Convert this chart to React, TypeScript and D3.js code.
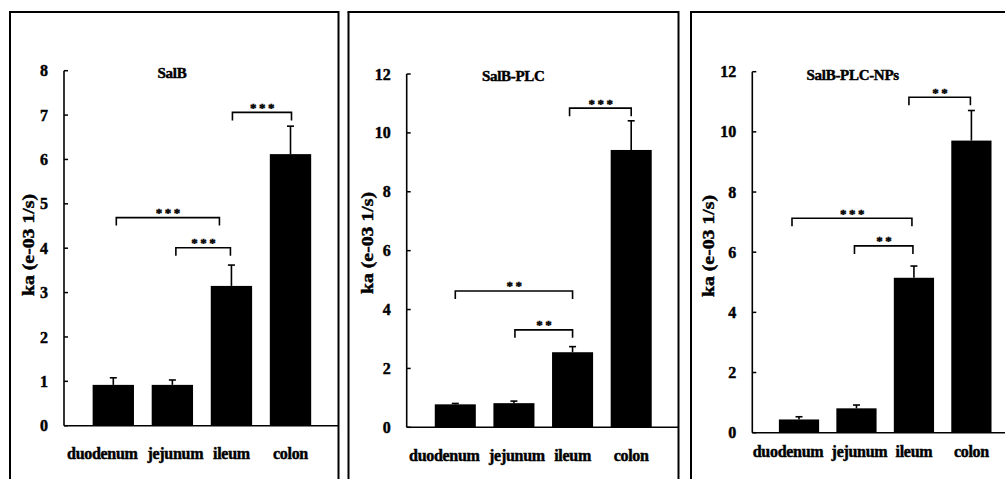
import React from "react";
import * as d3 from "d3";

const categories = ["duodenum", "jejunum", "ileum", "colon"];
const labelShift = [-11, 3, 0, 0];

const salbValues = [0.92, 0.92, 3.15, 6.12];
const salbErrors = [0.16, 0.11, 0.47, 0.63];
const plcValues = [0.78, 0.82, 2.55, 9.42];
const plcErrors = [0.03, 0.07, 0.19, 0.99];
const npsValues = [0.44, 0.81, 5.15, 9.71];
const npsErrors = [0.09, 0.11, 0.39, 1.0];

const salbTicks = [0, 1, 2, 3, 4, 5, 6, 7, 8];
const plcTicks = [0, 2, 4, 6, 8, 10, 12];
const npsTicks = [0, 2, 4, 6, 8, 10, 12];

const salbBrackets = [
  { from: 0, to: 2, level: 4.69, label: "***", dxFrom: 3, dxTo: -12 },
  { from: 1, to: 2, level: 4.01, label: "***", dxFrom: 3.5, dxTo: -1 },
  { from: 2, to: 3, level: 7.06, label: "***", dxFrom: 1, dxTo: 1 },
];
const plcBrackets = [
  { from: 0, to: 2, level: 4.63, label: "**", dxFrom: 0, dxTo: 0 },
  { from: 1, to: 2, level: 3.31, label: "**", dxFrom: 1, dxTo: 0 },
  { from: 2, to: 3, level: 10.84, label: "***", dxFrom: -3, dxTo: 0 },
];
const npsBrackets = [
  { from: 0, to: 2, level: 7.13, label: "***", dxFrom: -7, dxTo: -2 },
  { from: 1, to: 2, level: 6.21, label: "**", dxFrom: -2, dxTo: -1 },
  { from: 2, to: 3, level: 11.15, label: "**", dxFrom: -5, dxTo: -1 },
];

const titles = ["SalB", "SalB-PLC", "SalB-PLC-NPs"];
const yLabel = "ka (e-03 1/s)";

const FONT = "Liberation Serif";

type Bracket = { from: number; to: number; level: number; label: string; dxFrom: number; dxTo: number };

type PanelProps = {
  title: string;
  values: number[];
  errors: number[];
  ticks: number[];
  brackets: Bracket[];
  frameLeft: number;
  frameRight: number | null;
  axisX: number;
  zeroY: number;
  topY: number;
  firstC: number;
  lastC: number;
  axisEnd: number;
  titleDx: number;
  titleY: number;
  yLabelDx: number;
  yLabelY: number;
  catY: number;
};

function Panel(p: PanelProps) {
  const maxT = p.ticks[p.ticks.length - 1];
  const y = d3.scaleLinear().domain([0, maxT]).range([p.zeroY, p.topY]);
  const x = d3.scalePoint<string>().domain(categories).range([p.firstC, p.lastC]);
  const step = x.step();
  const bw = step * 0.7;
  const capW = 7;
  const txt = { fontFamily: FONT, fontWeight: 700 as const, stroke: "#000", strokeWidth: 0.45 };
  return (
    <g>
      <line x1={p.frameLeft} x2={p.frameLeft} y1={12} y2={490} stroke="#000" strokeWidth={2} />
      <line x1={p.frameLeft - 1} x2={p.frameRight ?? 1010} y1={12} y2={12} stroke="#000" strokeWidth={2} />
      {p.frameRight !== null && (
        <line x1={p.frameRight} x2={p.frameRight} y1={11} y2={490} stroke="#000" strokeWidth={2} />
      )}
      {categories.map((c, i) => (
        <rect
          key={c}
          x={(x(c) as number) - bw / 2}
          y={y(p.values[i])}
          width={bw}
          height={p.zeroY - y(p.values[i])}
          fill="#000"
        />
      ))}
      {categories.map((c, i) => {
        const cx = x(c) as number;
        const yt = y(p.values[i] + p.errors[i]);
        return (
          <g key={"e" + c} stroke="#000" strokeWidth={1.6}>
            <line x1={cx} x2={cx} y1={y(p.values[i])} y2={yt} />
            <line x1={cx - capW / 2} x2={cx + capW / 2} y1={yt} y2={yt} />
          </g>
        );
      })}
      <line x1={p.axisX} x2={p.axisX} y1={p.topY} y2={p.zeroY} stroke="#000" strokeWidth={1.6} />
      <line x1={p.axisX} x2={p.axisEnd} y1={p.zeroY} y2={p.zeroY} stroke="#000" strokeWidth={1.6} />
      {p.ticks.map((t) => (
        <g key={"t" + t}>
          <line x1={p.axisX} x2={p.axisX + 4} y1={y(t)} y2={y(t)} stroke="#000" strokeWidth={1.5} />
          <text x={p.axisX - 16} y={y(t)} dy="0.35em" textAnchor="end" style={{ ...txt, fontSize: 16 }}>
            {t}
          </text>
        </g>
      ))}
      {categories.map((c, i) => (
        <text
          key={"l" + c}
          x={(x(c) as number) + labelShift[i]}
          y={p.catY}
          dy="0.35em"
          textAnchor="middle"
          style={{ ...txt, fontSize: 16, letterSpacing: -0.3 }}
        >
          {c}
        </text>
      ))}
      {p.brackets.map((b, i) => {
        const x1 = (x(categories[b.from]) as number) + b.dxFrom;
        const x2 = (x(categories[b.to]) as number) + b.dxTo;
        const yy = y(b.level);
        return (
          <g key={"b" + i}>
            <path
              d={`M${x1},${yy + 8}V${yy}H${x2}V${yy + 8}`}
              fill="none"
              stroke="#000"
              strokeWidth={1.6}
            />
            <text
              x={(x1 + x2) / 2 + 1.5}
              y={yy - 0.5}
              textAnchor="middle"
              style={{ ...txt, fontSize: 13, letterSpacing: 2.5 }}
            >
              {b.label}
            </text>
          </g>
        );
      })}
      <text
        x={p.axisX + p.titleDx}
        y={p.titleY}
        dy="0.35em"
        textAnchor="middle"
        style={{ ...txt, fontSize: 15, letterSpacing: -0.3 }}
      >
        {p.title}
      </text>
      <text
        transform={`translate(${p.axisX + p.yLabelDx},${p.yLabelY}) rotate(-90)`}
        dy="0.35em"
        textAnchor="middle"
        textLength={102}
        lengthAdjust="spacingAndGlyphs"
        style={{ ...txt, fontSize: 17 }}
      >
        {yLabel}
      </text>
    </g>
  );
}

export default function App() {
  return (
    <svg
      width={1005}
      height={479}
      style={{ position: "absolute", left: 0, top: 0, background: "#fff" }}
    >
      <rect x={0} y={0} width={1005} height={479} fill="#fff" />
      <Panel
        title={titles[0]}
        values={salbValues}
        errors={salbErrors}
        ticks={salbTicks}
        brackets={salbBrackets}
        frameLeft={10}
        frameRight={338.5}
        axisX={64}
        zeroY={425.7}
        topY={70.7}
        firstC={113.3}
        lastC={290.5}
        axisEnd={338}
        titleDx={108}
        titleY={73}
        yLabelDx={-36}
        yLabelY={245}
        catY={453}
      />
      <Panel
        title={titles[1]}
        values={plcValues}
        errors={plcErrors}
        ticks={plcTicks}
        brackets={plcBrackets}
        frameLeft={348.5}
        frameRight={678.5}
        axisX={406.7}
        zeroY={427.3}
        topY={74}
        firstC={455.3}
        lastC={631.2}
        axisEnd={678}
        titleDx={106.6}
        titleY={76}
        yLabelDx={-40}
        yLabelY={243}
        catY={455}
      />
      <Panel
        title={titles[2]}
        values={npsValues}
        errors={npsErrors}
        ticks={npsTicks}
        brackets={npsBrackets}
        frameLeft={691}
        frameRight={null}
        axisX={752.3}
        zeroY={432.7}
        topY={71.7}
        firstC={799}
        lastC={971.4}
        axisEnd={1005}
        titleDx={100.4}
        titleY={75}
        yLabelDx={-44}
        yLabelY={246}
        catY={451.7}
      />
    </svg>
  );
}
